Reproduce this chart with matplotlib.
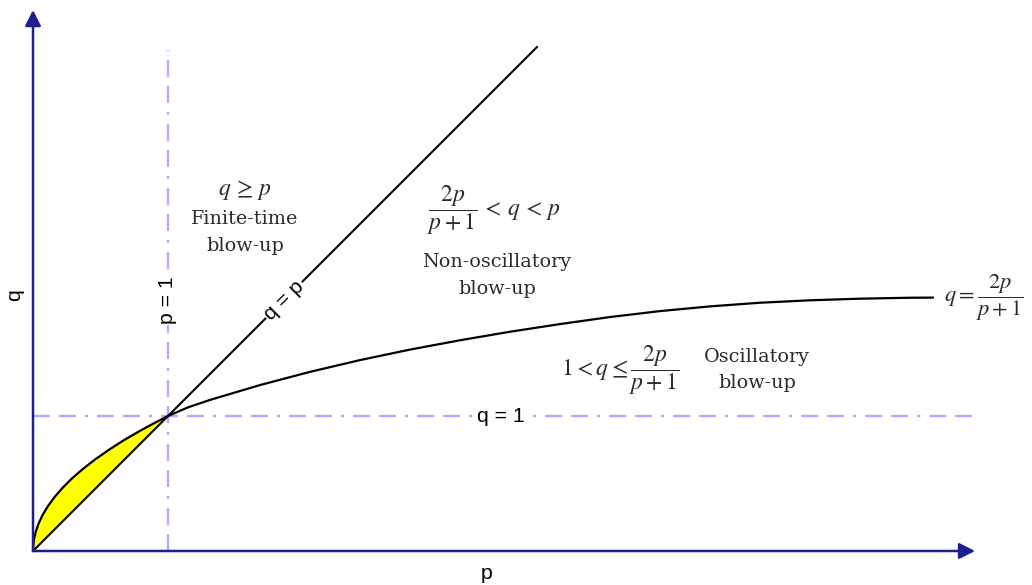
import matplotlib
matplotlib.use("Agg")
import matplotlib.pyplot as plt
from matplotlib.patches import FancyArrowPatch

plt.rcParams["mathtext.fontset"] = "stix"
plt.rcParams["lines.scale_dashes"] = False

# Boundary curve q = 2p/(p+1) (schematic shape), sampled along p
curve_p = [0.0, 0.002, 0.008, 0.02, 0.04, 0.07, 0.11, 0.16, 0.22, 0.29, 0.37, 0.46,
           0.56, 0.67, 0.78, 0.89, 1.0,
           1.148, 1.311, 1.681, 2.052, 2.422, 2.793, 3.163, 3.533, 3.904, 4.274,
           4.644, 5.015, 5.385, 5.756, 6.126, 6.496, 6.667]
curve_q = [0.0, 0.045, 0.09, 0.141, 0.2, 0.265, 0.332, 0.4, 0.469, 0.539, 0.608, 0.678,
           0.748, 0.819, 0.883, 0.943, 1.0,
           1.064, 1.119, 1.229, 1.327, 1.414, 1.492, 1.561, 1.624, 1.681, 1.733,
           1.777, 1.812, 1.839, 1.857, 1.869, 1.876, 1.877]

# Diagonal q = p and the reference lines p = 1, q = 1
diag_end = 3.733
p_ref = 1.0
q_ref = 1.0
vline_top = 3.71
hline_end = 6.98

# Axis extents
x_axis_end = 6.978
y_axis_end = 4.007

AXIS_COLOR = "#1e1e8c"
REF_COLOR = "#adadff"
TEXT_COLOR = "#2b2b2b"
DASHDOT = (0, (12.2, 6.5, 12.2, 6.5, 2.2, 6.5))

fig = plt.figure(figsize=(10.32, 5.85), dpi=100)
ax = fig.add_axes([0, 0, 1, 1])
ax.set_xlim(-33 / 135, 999 / 135)
ax.set_ylim(-34 / 135, 551 / 135)
ax.axis("off")

# Reference lines
ax.plot([p_ref, p_ref], [0, vline_top], color=REF_COLOR, lw=1.7,
        linestyle=DASHDOT, dash_capstyle="butt", zorder=1)
ax.plot([0, hline_end], [q_ref, q_ref], color=REF_COLOR, lw=1.7,
        linestyle=DASHDOT, dash_capstyle="butt", zorder=1)

# Shaded region between the curve and the diagonal for p < 1
low_p = [p for p in curve_p if p <= 1.0]
low_q = curve_q[:len(low_p)]
ax.fill_between(low_p, low_p, low_q, color="#ffff00", lw=0, zorder=2)

# Curves
ax.plot(curve_p, curve_q, color="black", lw=1.6, zorder=3,
        solid_capstyle="round", solid_joinstyle="round")
ax.plot([0, diag_end], [0, diag_end], color="black", lw=1.5, zorder=3)

# Axes with arrowheads
for end in [(x_axis_end, 0), (0, y_axis_end)]:
    ax.add_patch(FancyArrowPatch((0, 0), end, arrowstyle="-|>,head_length=0.95,head_width=0.48",
                                 mutation_scale=10, color=AXIS_COLOR, lw=1.8,
                                 shrinkA=0, shrinkB=0, zorder=4))

# Axis labels
sans = dict(fontsize=15.3, family="Liberation Sans", ha="center", va="center")
ax.text(3.363, -0.163, "p", **sans)
ax.text(-0.133, 1.896, "q", rotation=90, **sans)

# Line labels
box = dict(facecolor="white", edgecolor="none", pad=1.0)
ax.text(p_ref, 1.859, "p = 1", rotation=90, bbox=box, zorder=5, **sans)
ax.text(1.859, 1.859, "q = p", rotation=45, rotation_mode="anchor", bbox=box, zorder=5, **sans)
ax.text(3.467, q_ref, "q = 1", bbox=box, zorder=5, **sans)

# Region descriptions
serif = dict(fontsize=13.8, family="DejaVu Serif", color=TEXT_COLOR, ha="center", va="center")
math = dict(fontsize=17, color=TEXT_COLOR, va="center")
ax.text(1.570, 2.674, r"$q\,\geq\,p$", ha="center", **math)
ax.text(1.570, 2.459, "Finite-time", **serif)
ax.text(1.570, 2.259, "blow-up", **serif)

ax.text(3.415, 2.526, r"$\dfrac{2p}{p+1}\,<\,q\,<\,p$", ha="center", **math)
ax.text(3.437, 2.141, "Non-oscillatory", **serif)
ax.text(3.437, 1.941, "blow-up", **serif)

ax.text(4.348, 1.341, r"$1 < q \leq \dfrac{2p}{p+1}$", ha="center", **math)
ax.text(5.363, 1.437, "Oscillatory", **serif)
ax.text(5.363, 1.244, "blow-up", **serif)

ax.text(6.75, 1.874, r"$q = \dfrac{2p}{p+1}$", ha="left", fontsize=16.2,
        color=TEXT_COLOR, va="center")

fig.savefig("out.png", dpi=100, facecolor="white")
